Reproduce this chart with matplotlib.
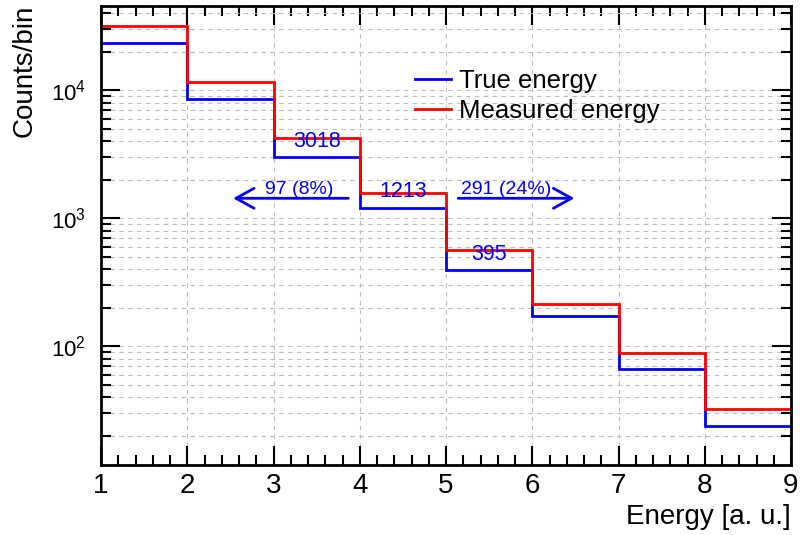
import numpy as np
import matplotlib
matplotlib.use('Agg')
import matplotlib.pyplot as plt
from matplotlib import ticker

plt.rcParams['font.family'] = ['Liberation Sans', 'DejaVu Sans']
plt.rcParams['mathtext.fontset'] = 'custom'
plt.rcParams['mathtext.rm'] = 'Liberation Sans'
plt.rcParams['mathtext.it'] = 'Liberation Sans'

# histogram contents (one bin per energy unit)
edges = [1, 2, 3, 4, 5, 6, 7, 8, 9]
true_counts = [23420, 8550, 3018, 1213, 395, 173, 66, 23.6]
meas_counts = [31770, 11670, 4217, 1585, 565, 214, 88, 32.4]

# migration out of bin 4
mig_left = 97
mig_right = 291
mig_base = 1213

fig = plt.figure(figsize=(8, 5.35), dpi=100)
ax = fig.add_axes([101/800, 1 - 465/535, 690/800, 459/535])

ax.stairs(true_counts, edges, color='blue', lw=2, baseline=None, label='True energy')
ax.stairs(meas_counts, edges, color='red', lw=2, baseline=None, label='Measured energy')

ax.set_yscale('log')
ax.set_xlim(1, 9)
ax.set_ylim(11.8, 45600)

# grid like ROOT's SetGrid
ax.xaxis.set_major_locator(ticker.MultipleLocator(1))
ax.xaxis.set_minor_locator(ticker.MultipleLocator(0.2))
ax.yaxis.set_major_locator(ticker.LogLocator(base=10))
ax.yaxis.set_minor_locator(ticker.LogLocator(base=10, subs=np.arange(2, 10)))
ax.yaxis.set_minor_formatter(ticker.NullFormatter())
ax.yaxis.set_major_formatter(ticker.FuncFormatter(
    lambda v, p: r'$\mathdefault{10^{%d}}$' % round(np.log10(v))))

gkw = dict(color='#bebebe', ls=(0, (4, 4)), lw=0.8)
ax.grid(True, which='major', axis='x', **gkw)
ax.grid(True, which='both', axis='y', **gkw)
ax.set_axisbelow(True)

ax.tick_params(which='both', direction='in', top=True, right=True, width=1.5, colors='black')
ax.tick_params(which='major', length=14)
ax.tick_params(which='minor', length=7)
ax.tick_params(axis='x', labelsize=20, pad=6)
ax.tick_params(axis='y', labelsize=16, pad=11)
for s in ax.spines.values():
    s.set_linewidth(2)

ax.set_xlabel('Energy [a. u.]', fontsize=20, loc='right')
ax.xaxis.set_label_coords(1.0, -0.085)
ax.set_ylabel('Counts/bin', fontsize=20, loc='top')
ax.yaxis.set_label_coords(-0.092, 1.002)

# bin contents written over the blue histogram
for i in (2, 3, 4):
    ax.text(edges[i] + 0.5, true_counts[i] * 1.2, str(true_counts[i]),
            color='blue', fontsize=15.5, ha='center', va='baseline')

# migration arrows
ay = 1433
astyle = dict(arrowstyle='->,head_length=1.3,head_width=0.72', color='blue', lw=2)
ax.annotate('', xy=(2.5, ay), xytext=(3.9, ay), arrowprops=astyle)
ax.annotate('', xy=(6.52, ay), xytext=(5.11, ay), arrowprops=astyle)
ax.text(3.3, 1549, '%d (%d%%)' % (mig_left, round(100 * mig_left / mig_base)),
        color='blue', fontsize=14, ha='center', va='baseline')
ax.text(5.7, 1549, '%d (%d%%)' % (mig_right, round(100 * mig_right / mig_base)),
        color='blue', fontsize=14, ha='center', va='baseline')

ax.legend(loc='upper left', bbox_to_anchor=(0.455, 0.862), frameon=False, fontsize=18.5,
          handlelength=1.4, handletextpad=0.3, labelspacing=0.22, borderpad=0, borderaxespad=0)

fig.savefig('out.png', dpi=100)
